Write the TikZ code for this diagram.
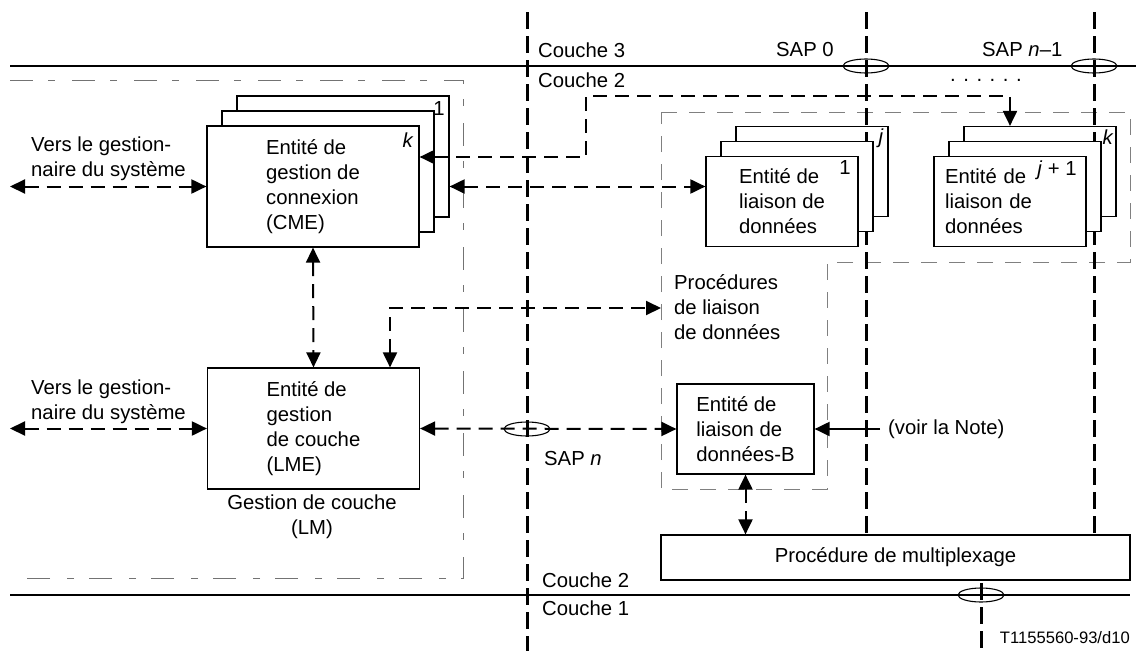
\documentclass[tikz,border=0pt]{standalone}
\usepackage{fontspec}
\setmainfont{Liberation Sans}
\usetikzlibrary{arrows.meta,calc,shapes.geometric}
\begin{document}
\begin{tikzpicture}[x=1pt,y=-1pt,
  every node/.style={font=\fontsize{20.3}{25}\selectfont, inner sep=0pt},
  cmebox/.style={draw, line width=1.2pt, fill=white, align=left, minimum width=212pt, minimum height=121pt},
  dlbox/.style={draw, line width=1.2pt, fill=white, align=left, minimum width=152pt, minimum height=90pt},
  vline/.style={line width=3pt, dash pattern=on 17pt off 7pt},
  hline/.style={line width=2.5pt},
  lmframe/.style={line width=1pt, black!55, dash pattern=on 23pt off 15pt on 7pt off 17pt},
  dlframe/.style={line width=1pt, black!50, dash pattern=on 16pt off 12pt},
  darrow/.style={line width=2pt, dash pattern=on 14pt off 8pt, {Triangle[length=15pt,width=14pt]}-{Triangle[length=15pt,width=14pt]}},
  sarrow/.style={line width=2pt, -{Triangle[length=15pt,width=14pt]}},
  sapell/.style={ellipse, draw, line width=1.1pt, minimum width=46pt, minimum height=14pt}]
\useasboundingbox (0,0) rectangle (1136,651);

% frames
\draw[lmframe] (10,80) -- (463,80) -- (463,578) -- (18,578);
\draw[dlframe] (661,112) -- (1130,112) -- (1130,262) -- (827,262) -- (827,489) -- (661,489) -- cycle;

% layer boundaries
\draw[hline] (10,66) -- (1136,66);
\draw[hline] (10,595) -- (1130,595);
\draw[vline] (527,12) -- (527,651);

% multiplexing box
\node[draw, line width=1.2pt, fill=white, minimum width=469pt, minimum height=45pt] (mux) at (895.5,557.5) {Procédure de multiplexage};
\draw[vline] (981,583) -- (981,651);

% CME stack
\node[cmebox] (cmeB) at (343,156.5) {};
\node[cmebox] (cmeM) at (328,171.5) {};
\node[cmebox] (cmeF) at (313,186.5) {Entité de\\gestion de\\connexion\\(CME)};
\node (cmeone) at (439,108.5) {1};
\node (cmek) at (408,140) {\textit{k}};

% data link stacks
\node[dlbox] (dl1B) at (812,171.5) {};
\node[dlbox] (dl2B) at (1040,171.5) {};
\draw[vline] (866,12) -- (866,535);
\draw[vline] (1094,12) -- (1094,535);
\node[dlbox] (dl1M) at (797,186.5) {};
\node[dlbox] (dl1F) at (782,201.5) {Entité de\\liaison de\\données};
\node[dlbox] (dl2M) at (1025,186.5) {};
\node[dlbox, text width=130pt] (dl2F) at (1010,201.5) {Entité de\\liaison de\\données};
\node (dlone) at (845,168) {1};
\node (dlj) at (881,138) {\textit{j}};
\node (dl2k) at (1108,137) {\textit{k}};
\node (dljp) at (1057,170) {\textit{j} + 1};

% LME
\node[cmebox] (lme) at (313.5,428.5) {Entité de\\gestion\\de couche\\(LME)};
\node[align=center] (lm) at (312,517) {Gestion de couche\\(LM)};

% DL-B
\node[dlbox, minimum width=137pt] (dlb) at (745.5,429) {Entité de\\liaison de\\données-B};
\node[anchor=west, align=left] (proc) at (674,307) {Procédures\\de liaison\\de données};

% SAP ellipses
\node[sapell] (sap0) at (866,66) {};
\node[sapell] (sapn1) at (1094,66) {};
\node[sapell] (sapn) at (527,429) {};
\node[sapell] (sapphy) at (981,595) {};

% texts
\node[anchor=west, align=left] (sys1) at (31,158.5) {Vers le gestion-\\naire du système};
\node[anchor=west, align=left] (sys2) at (31,401.5) {Vers le gestion-\\naire du système};
\node[anchor=west] (c3) at (538,50) {Couche 3};
\node[anchor=west] (c2a) at (538,80) {Couche 2};
\node[anchor=west] (s0) at (776,50) {SAP 0};
\node[anchor=west] (sn1) at (982,50) {SAP \textit{n}–1};
\node[anchor=base west] (dots) at (950,81) {. . . . . .};
\node[anchor=west] (snl) at (544,459) {SAP \textit{n}};
\node[anchor=west, inner sep=4pt] (note) at (884,429) {(voir la Note)};
\node[anchor=west] (c2b) at (542,580) {Couche 2};
\node[anchor=west] (c1) at (542,608) {Couche 1};
\node[anchor=east, font=\fontsize{16.6}{20}\selectfont] (ref) at (1130,638) {T1155560-93/d10};

% connectors
\coordinate (sysA) at (10,186.5);
\coordinate (sysB) at (10,428.5);
\coordinate (bend1) at (586,96);
\coordinate (procW) at (661,308);
\draw[darrow] (sysA) -- (cmeF.west);
\draw[darrow] (sysB) -- (lme.west);
\draw[darrow] ([yshift=29.5]cmeF.east) -| (bend1) -| ([xshift=-30]dl2B.north);
\draw[darrow] (cmeF.east -| cmeB.east) -- (cmeF.east -| dl1F.west);
\draw[darrow] (cmeF.south) -- (lme.north);
\draw[darrow] ([xshift=76.5]lme.north) |- (procW);
\draw[darrow] (lme.east) -- (dlb.west);
\draw[sarrow] ([xshift=-4]note.west) -- (dlb.east);
\draw[darrow] (dlb.south) -- (dlb.south |- mux.north);
\end{tikzpicture}
\end{document}
